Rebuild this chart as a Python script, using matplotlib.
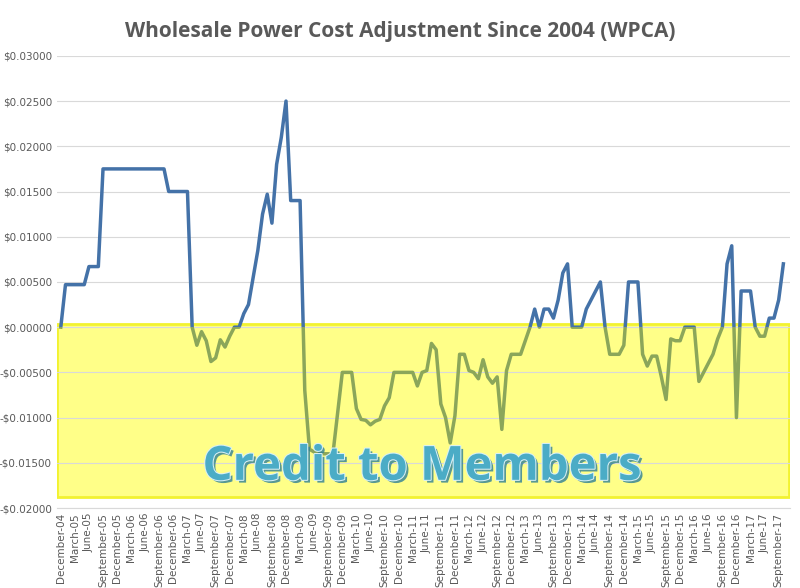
import matplotlib
matplotlib.use("Agg")
import matplotlib.pyplot as plt
import matplotlib.patheffects as pe
from matplotlib.patches import Rectangle
import numpy as np

months = ["January","February","March","April","May","June","July","August",
          "September","October","November","December"]
wpca = [0,
 0.0047,0.0047,0.0047,0.0047,0.0047,
 0.0067,0.0067,0.0067,
 0.0175,0.0175,0.0175,0.0175,0.0175,0.0175,0.0175,0.0175,0.0175,0.0175,0.0175,0.0175,0.0175,0.0175,
 0.015,0.015,0.015,0.015,0.015,
 0,
 -0.002,-0.0005,-0.0015,-0.0038,-0.0034,-0.0014,-0.0022,-0.001,0,0,
 0.0015,0.0025,0.0055,0.0085,0.0125,0.0147,0.0115,0.018,0.021,0.025,0.014,0.014,0.014,
 -0.007,-0.0135,-0.0138,-0.014,-0.014,-0.014,-0.014,-0.0095,-0.005,-0.005,-0.005,-0.009,-0.0102,
 -0.0103,-0.0108,-0.0104,-0.0102,-0.0087,-0.0078,-0.005,-0.005,-0.005,-0.005,-0.005,-0.0065,
 -0.005,-0.0048,-0.0018,-0.0025,-0.0085,-0.01,-0.0128,-0.0098,-0.003,-0.003,-0.0048,-0.005,
 -0.0057,-0.0036,-0.0055,-0.0062,-0.0055,-0.0113,-0.0048,-0.003,-0.003,-0.003,-0.0015,0,
 0.002,0,0.002,0.002,0.001,0.003,0.006,0.007,0,0,0,0.002,0.003,0.004,0.005,0,
 -0.003,-0.003,-0.003,-0.002,0.005,0.005,0.005,-0.003,-0.0043,-0.0032,-0.0032,-0.0055,-0.008,
 -0.0013,-0.0015,-0.0015,0,0,0,-0.006,-0.005,-0.004,-0.003,-0.0013,0,0.007,0.009,-0.01,
 0.004,0.004,0.004,0,-0.001,-0.001,0.001,0.001,0.003,0.007]
yticks = [-0.02,-0.015,-0.01,-0.005,0,0.005,0.01,0.015,0.02,0.025,0.03]

n = len(wpca)
x = np.arange(n)
labels = []
for i in range(0, n, 3):
    mi = (11 + i) % 12
    yr = 2004 + (11 + i) // 12
    labels.append(f"{months[mi]}-{yr % 100:02d}")

fig = plt.figure(figsize=(8, 5.88), dpi=100)
ax = fig.add_axes([0.071, 0.136, 0.917, 0.769])
ax.set_xlim(-0.85, 155.5)
ax.set_ylim(-0.02, 0.03)

ax.add_patch(Rectangle((-0.8, -0.0188), 156.0, 0.0191, facecolor="#FFFF88",
                       edgecolor="#F2F230", lw=2, zorder=1))

blue, = ax.plot(x, wpca, color="#4472A8", lw=2.5, zorder=3)
green, = ax.plot(x, wpca, color="#8BA65A", lw=2.5, zorder=3)
top = Rectangle((-5, 0), 200, 1, transform=ax.transData)
bot = Rectangle((-5, -1), 200, 1, transform=ax.transData)
blue.set_clip_path(top)
green.set_clip_path(bot)

ax.set_yticks(yticks)
ax.set_yticklabels([("-" if v < 0 else "") + f"${abs(v):.5f}" for v in yticks],
                   fontsize=7.5, color="#595959")
ax.set_xticks(x[::3])
ax.set_xticklabels(labels, rotation=90, fontsize=7.5, color="#595959")
ax.tick_params(length=0)
ax.grid(axis="y", color="#D9D9D9", lw=0.8, zorder=0)
for s in ["top", "right", "left"]:
    ax.spines[s].set_visible(False)
ax.spines["bottom"].set_color("#D9D9D9")

ax.text(77, -0.0155, "Credit to Members", fontsize=34, fontweight="bold",
        family="Open Sans", color="#4BACC6", ha="center", va="center", zorder=4,
        path_effects=[pe.SimplePatchShadow(offset=(2, -2), shadow_rgbFace="#2E7F97", alpha=0.8),
                      pe.withStroke(linewidth=1.5, foreground="#D8F0F6")])

fig.suptitle("Wholesale Power Cost Adjustment Since 2004 (WPCA)", y=0.965,
             fontsize=15, fontweight="bold", family="Open Sans", color="#595959")
fig.savefig("out.png", dpi=100)
